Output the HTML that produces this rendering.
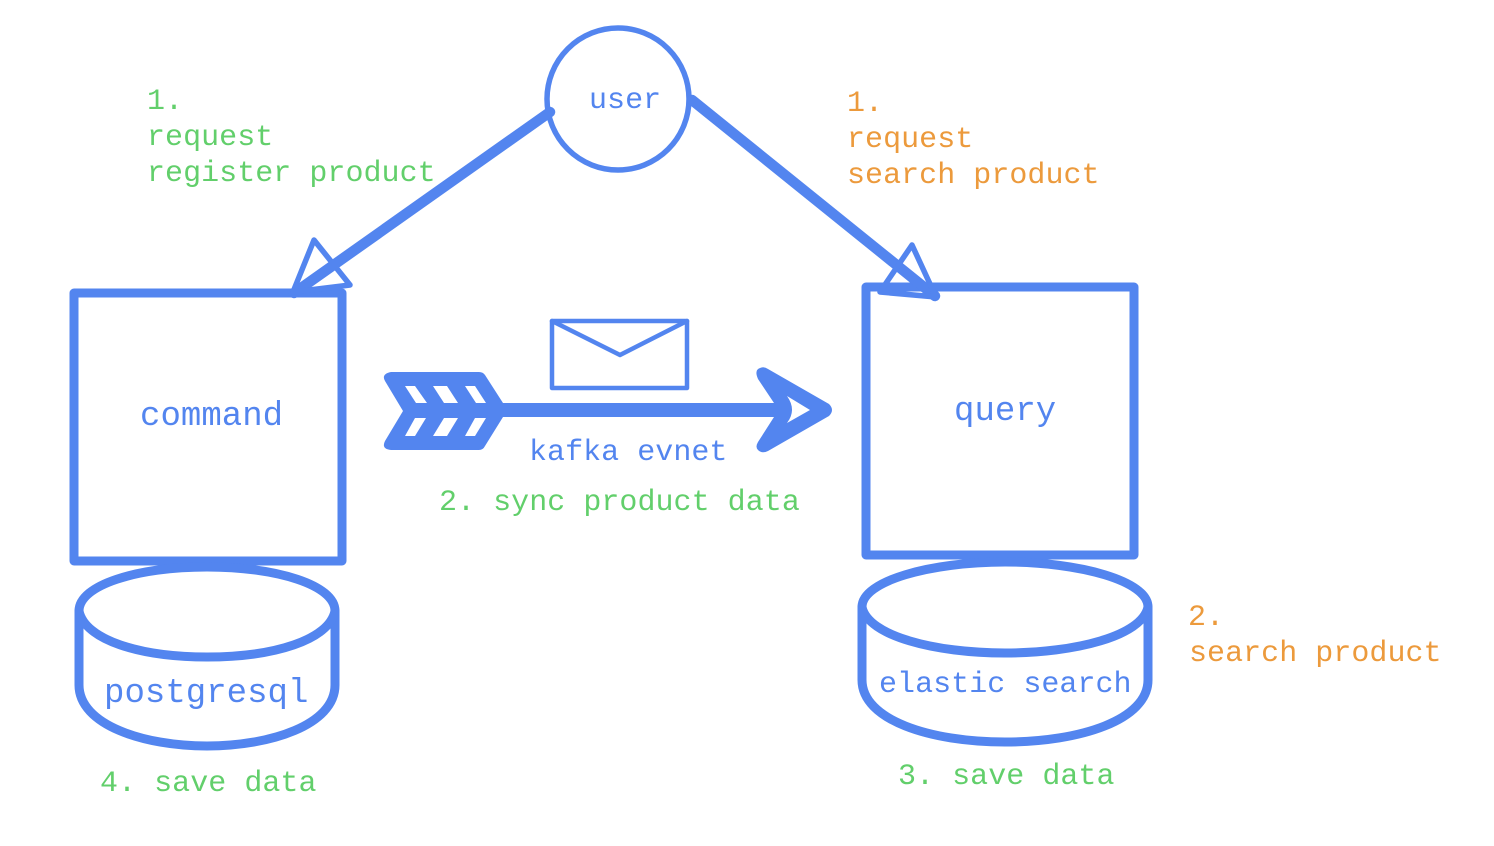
<!DOCTYPE html>
<html><head><meta charset="utf-8"><style>
html,body{margin:0;padding:0;background:#fff}
svg{display:block}
text{font-family:"Liberation Mono",monospace;font-size:30px;white-space:pre;letter-spacing:.04px}
.b{fill:#5385ef}.g{fill:#62cf6b}.o{fill:#ec9a3c}.l{font-size:34px}
</style></head><body>
<svg width="1494" height="846" viewBox="0 0 1494 846" xmlns="http://www.w3.org/2000/svg">
<rect width="1494" height="846" fill="#fff"/>
<g fill="none" stroke="#5385ef" stroke-linejoin="round" stroke-linecap="round">
<circle cx="618" cy="99" r="71" stroke-width="5.5"/>
<rect x="74" y="293" width="268" height="268" stroke-width="9"/>
<rect x="866" y="287" width="268" height="268" stroke-width="9"/>
<path d="M550 112 294 293" stroke-width="10.5"/>
<path d="M692 100 935 296" stroke-width="10.5"/>
<path d="M293 292 314 240 350 285Z" stroke-width="5.5"/>
<path d="M880 292 912 245 936 297Z" stroke-width="5.5"/>
<path d="M79 611C79 585 137 567 207 567S335 585 335 611V685C335 725 270 746 207 746S79 725 79 685Z" fill="#fff" stroke-width="9"/>
<path d="M79 611C85 640 140 657 207 657S329 640 335 611" stroke-width="9"/>
<path d="M862 607C862 581 930 562 1005 562S1148 581 1148 607V680C1148 720 1080 742 1005 742S862 720 862 680Z" fill="#fff" stroke-width="9"/>
<path d="M862 607C868 636 935 653 1005 653S1142 636 1148 607" stroke-width="9"/>
<rect x="552" y="321" width="135" height="67" stroke-width="4.5"/>
<path d="M552 321 620 355 687 321" stroke-width="4.5"/>
</g>
<path d="M500 403H774L758 379Q754 370 760 368Q764 366 768 369L829 404Q835 410 829 416L768 451Q762 454 758 450Q755 447 758 442L774 417H500Z" fill="#5385ef"/>
<path d="M787 396 810 410 787 423Q797 410 787 396Z" fill="#fff"/>
<path d="M391 372H479Q483 372 485 375L503 403V417L485 446Q483 450 479 450H391Q381 449 385 441L403 411 385 381Q381 374 391 372Z" fill="#5385ef"/>
<g fill="#fff">
<path d="M405 386H415L427 403H416Z"/><path d="M433 386H447L458 403H444Z"/><path d="M465 386H475L486 403H476Z"/>
<path d="M415 418H426L415 436H405Z"/><path d="M444 418H458L447 436H433Z"/><path d="M475 418H486L475 436H465Z"/>
</g>
<text x="589" y="108" class="b">user</text>
<text x="140" y="425" class="b l">command</text>
<text x="954" y="420" class="b l">query</text>
<text x="104" y="702" class="b l">postgresql</text>
<text x="879" y="692" class="b">elastic search</text>
<text x="529" y="460" class="b">kafka evnet</text>
<text x="147" y="109" class="g">1.</text>
<text x="147" y="145" class="g">request</text>
<text x="147" y="181" class="g">register product</text>
<text x="439" y="510" class="g">2. sync product data</text>
<text x="100" y="791" class="g">4. save data</text>
<text x="898" y="784" class="g">3. save data</text>
<text x="847" y="111" class="o">1.</text>
<text x="847" y="147" class="o">request</text>
<text x="847" y="183" class="o">search product</text>
<text x="1188" y="625" class="o">2.</text>
<text x="1189" y="661" class="o">search product</text>
</svg>
</body></html>
